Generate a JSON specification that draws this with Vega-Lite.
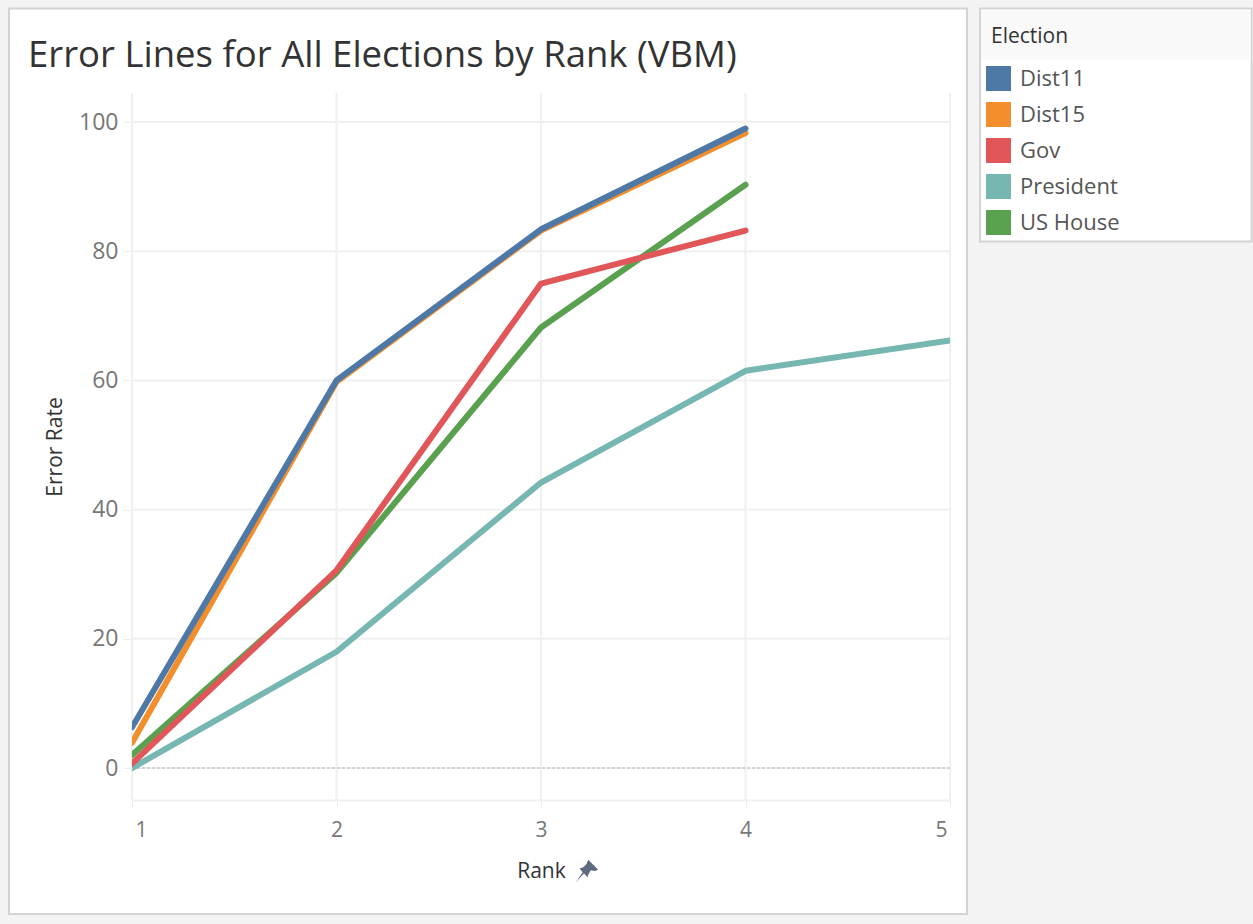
{
"$schema":"https://vega.github.io/schema/vega-lite/v6.json",
"width":818,"height":707,
"autosize":{"type":"none"},
"padding":{"left":132,"top":93,"right":303,"bottom":124},
"background":"#f3f3f3",
"title":{"text":"Error Lines for All Elections by Rank (VBM)","anchor":"start","frame":"group","dx":-104,"dy":87,"offset":20,"font":"Open Sans","fontSize":36.5,"fontWeight":"normal","color":"#333333"},
"config":{"view":{"stroke":null}},
"datasets":{
"lines":[
{"Election":"Dist15","Rank":1,"ErrorRate":3.9},{"Election":"Dist15","Rank":2,"ErrorRate":59.8},{"Election":"Dist15","Rank":3,"ErrorRate":83.2},{"Election":"Dist15","Rank":4,"ErrorRate":98.3},
{"Election":"Dist11","Rank":1,"ErrorRate":6.3},{"Election":"Dist11","Rank":2,"ErrorRate":60},{"Election":"Dist11","Rank":3,"ErrorRate":83.4},{"Election":"Dist11","Rank":4,"ErrorRate":99},
{"Election":"President","Rank":1,"ErrorRate":0},{"Election":"President","Rank":2,"ErrorRate":18},{"Election":"President","Rank":3,"ErrorRate":44.2},{"Election":"President","Rank":4,"ErrorRate":61.5},{"Election":"President","Rank":5,"ErrorRate":66.2},
{"Election":"US House","Rank":1,"ErrorRate":2},{"Election":"US House","Rank":2,"ErrorRate":30.2},{"Election":"US House","Rank":3,"ErrorRate":68.2},{"Election":"US House","Rank":4,"ErrorRate":90.3},
{"Election":"Gov","Rank":1,"ErrorRate":0.7},{"Election":"Gov","Rank":2,"ErrorRate":30.6},{"Election":"Gov","Rank":3,"ErrorRate":75},{"Election":"Gov","Rank":4,"ErrorRate":83.2}
]},
"layer":[
{"mark":{"type":"rect","fill":"#ffffff","stroke":"#d3d3d3","strokeWidth":2},"data":{"values":[{}]},
 "encoding":{"x":{"datum":0.3985,"type":"quantitative","scale":{"domain":[1,5],"nice":false,"zero":false},"axis":{"title":"Rank","values":[1,2,3,4,5],"format":"d","grid":false,"labelFlush":true,"labelFlushOffset":-3,"labelFont":"Open Sans","labelFontSize":21,"labelColor":"#777777","labelPadding":11,"tickColor":"#eeeeee","tickSize":8,"domainColor":"#f0f0f0","domainWidth":2,"titleFont":"Open Sans","titleFontSize":21,"titleFontWeight":"normal","titleColor":"#333333","titlePadding":20,"zindex":1}},
 "x2":{"datum":5.083},
 "y":{"datum":117.6,"type":"quantitative","scale":{"domain":[-4.95,104.5],"nice":false,"zero":false},"axis":{"title":"Error Rate","values":[0,20,40,60,80,100],"grid":false,"domain":false,"labelFont":"Open Sans","labelFontSize":23,"labelColor":"#777777","labelPadding":5,"tickColor":"#eeeeee","tickSize":9,"titleFont":"Open Sans","titleFontSize":21,"titleFontWeight":"normal","titleColor":"#333333","titlePadding":13,"zindex":1}},
 "y2":{"datum":-22.6}}},
{"mark":{"type":"rect","fill":"#ffffff","stroke":"#d3d3d3","strokeWidth":2},"data":{"values":[{}]},
 "encoding":{"x":{"datum":5.147,"type":"quantitative"},"x2":{"datum":6.475},"y":{"datum":117.6,"type":"quantitative"},"y2":{"datum":81.5}}},
{"mark":{"type":"rect","fill":"#f9f9f9"},"data":{"values":[{}]},
 "encoding":{"x":{"datum":5.152,"type":"quantitative"},"x2":{"datum":6.47},"y":{"datum":117.4,"type":"quantitative"},"y2":{"datum":109.7}}},
{"mark":{"type":"rule","color":"#f0f0f0","strokeWidth":2},"data":{"values":[{"Rank":1},{"Rank":2},{"Rank":3},{"Rank":4},{"Rank":5}]},
 "encoding":{"x":{"field":"Rank","type":"quantitative"}}},
{"mark":{"type":"rule","color":"#f0f0f0","strokeWidth":2},"data":{"values":[{"ErrorRate":0},{"ErrorRate":20},{"ErrorRate":40},{"ErrorRate":60},{"ErrorRate":80},{"ErrorRate":100}]},
 "encoding":{"y":{"field":"ErrorRate","type":"quantitative"}}},
{"mark":{"type":"rule","color":"#b5b5b5","strokeWidth":1,"strokeDash":[3,2]},"data":{"values":[{"ErrorRate":0}]},
 "encoding":{"y":{"field":"ErrorRate","type":"quantitative"}}},
{"mark":{"type":"line","strokeWidth":6,"clip":true,"strokeCap":"round","strokeJoin":"round"},"data":{"name":"lines"},
 "encoding":{"x":{"field":"Rank","type":"quantitative"},"y":{"field":"ErrorRate","type":"quantitative"},
 "color":{"field":"Election","type":"nominal","scale":{"domain":["Dist11","Dist15","Gov","President","US House"],"range":["#4e79a7","#f28e2b","#e15759","#76b7b2","#59a14f"]},
 "legend":{"orient":"none","legendX":854,"legendY":-67,"padding":0,"title":"Election","titleFont":"Open Sans","titleFontSize":21,"titleFontWeight":"normal","titleColor":"#333333","titlePadding":19,"labelFont":"Open Sans","labelFontSize":22,"labelColor":"#555555","labelOffset":9,"symbolType":"square","symbolSize":625,"symbolStrokeWidth":0,"rowPadding":11,
 "encode":{"symbols":{"update":{"fill":{"scale":"color","field":"value"},"opacity":{"value":1}}},"title":{"update":{"dx":{"value":5}}}}}}}},
{"mark":{"type":"point","filled":true,"opacity":1,"fill":"#5f6b7d","stroke":null,"size":620,"shape":"M0.1,-0.9 L0.9,-0.1 L0.6,0 L0.3,-0.05 L0.1,0.3 L0.05,0.5 L-0.25,0.2 L-0.9,0.9 L-0.35,0.1 L-0.6,-0.2 L-0.3,-0.3 L-0.05,-0.55 Z"},"data":{"values":[{}]},
 "encoding":{"x":{"datum":3.225,"type":"quantitative"},"y":{"datum":-15.94,"type":"quantitative"}}}
]
}
